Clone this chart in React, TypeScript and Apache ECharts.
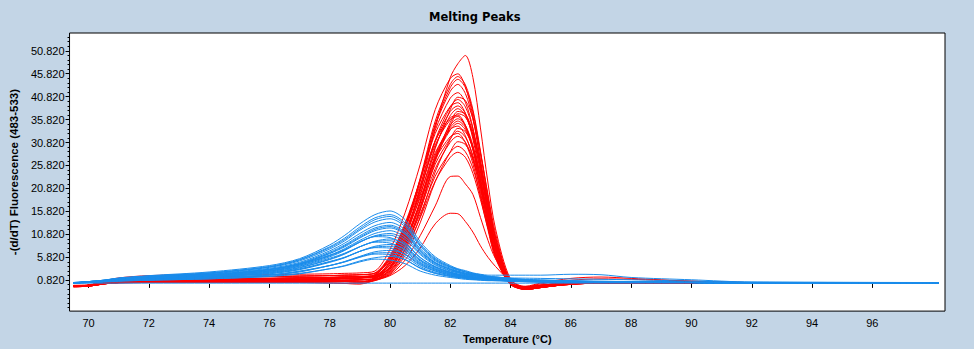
import React, { useEffect, useRef } from "react";
import * as echarts from "echarts";

// Temperature grid (°C) shared by every curve
const TEMPS = [69.5, 70, 70.5, 71, 72, 74, 76, 77, 78, 78.5, 79, 79.5, 80, 80.5, 81, 81.5, 82, 82.25, 82.5, 82.75, 83, 83.25, 83.5, 84, 84.5, 85, 86, 87, 88, 90, 92, 98.2];

// Red melting-peak curves (peak near 82 °C)
const R1 = [-0.5, -0.4, 0.2, 0.5, 0.7, 0.8, 0.9, 1.0, 1.1, 1.2, 1.3, 1.8, 3.5, 10, 21, 34, 45, 48, 49.8, 45, 34, 22, 12, 1.0, -0.9, -0.5, 0.1, 0.3, 0.3, 0.3, 0.3, 0.3];
const R2 = [-0.3, -0.2, 0.6, 1.3, 1.8, 2.0, 2.0, 2.1, 2.2, 2.3, 2.4, 2.8, 7.5, 15.5, 26, 38, 44.8, 45.8, 43, 36.6, 26.5, 16.5, 8, 0.3, -0.7, -0.3, 0.3, 0.5, 0.5, 0.4, 0.3, 0.3];
const R3 = [-0.5, -0.4, 0.2, 0.5, 0.7, 0.8, 0.9, 1.0, 1.1, 1.2, 1.3, 1.6, 5.0, 12.2, 23, 35.5, 43.5, 45.2, 43.4, 38, 29, 19, 10, 0.5, -1.2, -0.8, 0.0, 0.2, 0.3, 0.3, 0.3, 0.3];
const R4 = [-0.4, -0.3, 0.4, 0.9, 1.3, 1.5, 1.6, 1.7, 1.8, 1.9, 2.0, 2.3, 5.8, 12.8, 22.5, 33.5, 40.5, 41.7, 39.6, 34, 25.2, 15.8, 8, 0.2, -0.9, -0.5, 0.1, 0.3, 0.3, 0.3, 0.3, 0.3];
const R5 = [-0.6, -0.5, 0.0, 0.3, 0.5, 0.6, 0.7, 0.7, 0.8, 0.8, 0.9, 1.0, 3.2, 8.5, 17.8, 29.5, 38, 40.7, 40, 36, 28.6, 19.5, 11, 0.6, -1.0, -0.7, -0.1, 0.2, 0.2, 0.2, 0.2, 0.2];
const R6 = [-0.4, -0.3, 0.4, 0.9, 1.3, 1.5, 1.6, 1.7, 1.8, 1.9, 2.0, 2.4, 6.2, 13.2, 22.6, 32.8, 38.7, 39.5, 37.2, 31.6, 23, 14.2, 6.8, 0.0, -0.5, 0.2, 1.2, 1.5, 1.2, 0.6, 0.3, 0.3];
const R7 = [-0.5, -0.3, 0.3, 0.7, 1.0, 1.1, 1.2, 1.3, 1.4, 1.5, 1.6, 1.8, 4.2, 10.2, 19.2, 29.8, 36.7, 38.2, 36.7, 32.1, 24.4, 16, 8.4, 0.2, -1.2, -0.8, 0.0, 0.2, 0.3, 0.3, 0.3, 0.3];
const R8 = [-0.6, -0.5, 0.0, 0.2, 0.3, 0.3, 0.3, 0.3, 0.2, 0.1, 0.0, 0.9, 2.8, 7.8, 16.5, 27.2, 35.2, 37.6, 37.0, 33.2, 26.4, 18, 10.2, 0.5, -0.9, -0.5, 0.1, 0.3, 0.3, 0.3, 0.3, 0.3];
const R9 = [-0.5, -0.4, 0.2, 0.5, 0.7, 0.8, 0.9, 1.0, 1.1, 1.2, 1.3, 2.0, 5.6, 12.2, 20.8, 30.3, 35.8, 36.5, 34.3, 29.2, 21.2, 13.2, 6.2, -0.1, -0.7, -0.3, 0.3, 0.5, 0.5, 0.4, 0.3, 0.3];
const R10 = [-0.6, -0.5, 0.0, 0.3, 0.5, 0.6, 0.7, 0.7, 0.8, 0.8, 0.9, 1.3, 3.8, 9.6, 18.0, 28.1, 34.6, 36.0, 34.6, 30.2, 23, 15.1, 7.9, 0.1, -1.0, -0.7, -0.1, 0.2, 0.2, 0.2, 0.2, 0.2];
const R11 = [-0.5, -0.4, 0.1, 0.3, 0.4, 0.4, 0.4, 0.5, 0.5, 0.5, 0.4, 1.1, 3.5, 9.1, 17.5, 27.3, 33.6, 35.0, 33.6, 29.4, 22.4, 14.7, 7.7, 0.0, -1.2, -0.8, 0.0, 0.2, 0.3, 0.3, 0.3, 0.3];
const R12 = [-0.6, -0.5, 0.0, 0.2, 0.3, 0.3, 0.3, 0.3, 0.2, 0.1, 0.0, 0.8, 2.4, 6.8, 14.6, 24.4, 31.5, 33.9, 33.2, 29.8, 23.7, 16.3, 9.2, 0.4, -0.9, -0.5, 0.1, 0.3, 0.3, 0.3, 0.3, 0.3];
const R13 = [-0.5, -0.3, 0.3, 0.7, 1.0, 1.1, 1.2, 1.3, 1.4, 1.5, 1.6, 1.7, 4.9, 10.8, 18.7, 27.2, 32.1, 32.8, 30.8, 26.2, 19, 11.8, 5.6, -0.2, -1.0, -0.7, -0.1, 0.2, 0.2, 0.2, 0.2, 0.2];
const R14 = [-0.6, -0.5, 0.0, 0.3, 0.5, 0.6, 0.7, 0.7, 0.8, 0.8, 0.9, 1.0, 3.2, 8.4, 16.1, 25.1, 30.9, 32.2, 30.9, 27, 20.6, 13.5, 7.1, 0.0, -0.7, -0.3, 0.3, 0.5, 0.5, 0.4, 0.3, 0.3];
const R15 = [-0.5, -0.4, 0.1, 0.3, 0.4, 0.4, 0.4, 0.5, 0.5, 0.5, 0.4, 0.7, 2.2, 6.2, 13.3, 22.3, 28.8, 31.0, 30.4, 27.3, 21.7, 14.9, 8.4, 0.3, -1.2, -0.8, 0.0, 0.2, 0.3, 0.3, 0.3, 0.3];
const R16 = [-0.5, -0.4, 0.2, 0.5, 0.7, 0.8, 0.9, 1.0, 1.1, 1.2, 1.3, 1.4, 2.9, 7.5, 14.4, 22.4, 27.6, 28.7, 27.6, 24.1, 18.4, 12.1, 6.3, 0.2, -0.9, -0.5, 0.1, 0.3, 0.3, 0.3, 0.3, 0.3];
const R17 = [-0.6, -0.5, 0.0, 0.3, 0.5, 0.6, 0.7, 0.7, 0.8, 0.8, 0.9, 1.0, 2.0, 5.2, 10.5, 17, 23.4, 23.5, 21.8, 19.5, 14.5, 9.5, 5.5, 0.8, -0.6, 0.0, 0.8, 1.1, 1.0, 0.6, 0.3, 0.3];
const R18 = [-0.5, -0.4, 0.1, 0.3, 0.4, 0.4, 0.4, 0.5, 0.5, 0.5, 0.4, 0.8, 1.8, 4.0, 7.8, 13.1, 15.4, 15.3, 13.6, 11.3, 8.3, 5.8, 3.8, 0.6, -0.7, -0.3, 0.3, 0.5, 0.5, 0.4, 0.3, 0.3];
const R19 = [-0.5, -0.3, 0.3, 0.7, 1.0, 1.1, 1.2, 1.3, 1.4, 1.5, 1.6, 1.9, 4.6, 11.8, 22.3, 34.8, 42.8, 44.6, 42.8, 37.5, 28.5, 18.7, 9.8, 0.4, -1.0, -0.7, -0.1, 0.2, 0.2, 0.2, 0.2, 0.2];
const R20 = [-0.5, -0.4, 0.2, 0.5, 0.7, 0.8, 0.9, 1.0, 1.1, 1.2, 1.3, 1.9, 5.3, 11.4, 19.6, 28.6, 33.7, 34.4, 32.3, 27.5, 20, 12.4, 5.9, -0.1, -1.2, -0.8, 0.0, 0.2, 0.3, 0.3, 0.3, 0.3];
const R21 = [-0.6, -0.5, 0.0, 0.3, 0.5, 0.6, 0.7, 0.7, 0.8, 0.8, 0.9, 1.0, 2.6, 7.4, 16.0, 26.7, 34.5, 37.1, 36.4, 32.6, 26, 17.8, 10, 0.5, -0.9, -0.5, 0.1, 0.3, 0.3, 0.3, 0.3, 0.3];
const R22 = [-0.5, -0.4, 0.1, 0.3, 0.4, 0.4, 0.4, 0.5, 0.5, 0.5, 0.4, 1.3, 4.2, 10.6, 20.1, 31.3, 38.6, 40.2, 38.6, 33.8, 25.7, 16.9, 8.8, 0.2, -0.7, -0.3, 0.3, 0.5, 0.5, 0.4, 0.3, 0.3];
const R23 = [-0.5, -0.3, 0.3, 0.7, 1.0, 1.1, 1.2, 1.3, 1.4, 1.5, 1.6, 2.0, 5.4, 12.5, 22.8, 34.5, 42, 43.5, 41.5, 36, 27.1, 17.4, 9, 0.3, -0.9, -0.5, 0.1, 0.3, 0.3, 0.3, 0.3, 0.3];
const R24 = [-0.5, -0.4, 0.2, 0.5, 0.7, 0.8, 0.9, 1.0, 1.1, 1.2, 1.3, 1.6, 4.6, 11.2, 20.5, 31, 37.6, 38.8, 37.2, 32.5, 24.6, 16.1, 8.4, 0.2, -1.2, -0.8, 0.0, 0.2, 0.3, 0.3, 0.3, 0.3];
const R25 = [-0.5, -0.4, 0.1, 0.3, 0.4, 0.4, 0.4, 0.5, 0.5, 0.5, 0.4, 1.2, 3.7, 9.4, 17.8, 27.7, 34.1, 35.5, 34.1, 29.8, 22.7, 14.9, 7.8, 0.0, -1.0, -0.7, -0.1, 0.2, 0.2, 0.2, 0.2, 0.2];
const R26 = [-0.6, -0.5, 0.0, 0.3, 0.5, 0.6, 0.7, 0.7, 0.8, 0.8, 0.9, 1.2, 3.6, 9.0, 16.9, 26.1, 31.7, 33.3, 32.0, 28.0, 21.5, 14.2, 7.5, 0.1, -0.9, -0.5, 0.1, 0.3, 0.3, 0.3, 0.3, 0.3];
const R27 = [-0.5, -0.3, 0.3, 0.7, 1.0, 1.1, 1.2, 1.3, 1.4, 1.5, 1.6, 1.6, 3.6, 8.5, 15.2, 23.5, 28.7, 30.0, 28.8, 25.2, 19.3, 12.8, 6.8, 0.3, -1.2, -0.8, 0.0, 0.2, 0.3, 0.3, 0.3, 0.3];
const R28 = [-0.4, -0.3, 0.4, 0.9, 1.3, 1.5, 1.6, 1.7, 1.8, 1.9, 2.0, 2.3, 6.0, 12.8, 21.5, 31.2, 36.2, 36.8, 34.6, 29.5, 21.5, 13.4, 6.4, -0.1, -0.7, -0.3, 0.3, 0.5, 0.5, 0.4, 0.3, 0.3];

// Blue melting-peak curves (peak near 80 °C)
const B0 = [0.17, 0.17, 0.17, 0.17, 0.17, 0.17, 0.17, 0.17, 0.17, 0.17, 0.17, 0.17, 0.17, 0.17, 0.17, 0.17, 0.17, 0.17, 0.17, 0.17, 0.17, 0.17, 0.17, 0.17, 0.17, 0.17, 0.17, 0.17, 0.17, 0.17, 0.17, 0.17];
const B1 = [0.3, 0.5, 0.8, 1.3, 1.8, 2.6, 4.0, 5.5, 8.5, 10.6, 13.1, 15.1, 15.9, 14.0, 9.2, 5.9, 4.0, 3.3, 2.9, 2.4, 2.1, 1.9, 1.9, 1.9, 1.9, 1.9, 2.1, 2.0, 1.4, 0.9, 0.4, 0.3];
const B2 = [0.3, 0.5, 0.8, 1.2, 1.7, 2.4, 3.8, 5.3, 8.1, 10.0, 12.4, 14.4, 15.1, 13.3, 8.7, 5.6, 3.8, 3.2, 2.7, 2.3, 2.0, 1.7, 1.5, 1.2, 0.9, 0.8, 0.6, 0.5, 0.5, 0.4, 0.3, 0.3];
const B3 = [0.2, 0.5, 0.8, 1.2, 1.6, 2.3, 3.6, 5.0, 7.6, 9.4, 11.7, 13.5, 14.2, 12.5, 8.2, 5.2, 3.6, 3.0, 2.6, 2.2, 1.9, 1.6, 1.5, 1.3, 1.25, 1.2, 1.1, 1.0, 0.9, 0.6, 0.4, 0.3];
const B4 = [0.2, 0.5, 0.7, 1.1, 1.5, 2.2, 3.4, 4.7, 7.2, 8.9, 11.0, 12.7, 13.4, 11.8, 7.7, 5.0, 3.4, 2.8, 2.4, 2.1, 1.8, 1.5, 1.4, 1.1, 0.9, 0.7, 0.6, 0.5, 0.5, 0.3, 0.2, 0.2];
const B5 = [0.2, 0.5, 0.7, 1.1, 1.5, 2.1, 3.2, 4.5, 6.9, 8.5, 10.5, 12.2, 12.8, 11.3, 7.4, 4.7, 3.2, 2.7, 2.3, 2.0, 1.7, 1.5, 1.3, 1.1, 0.8, 0.7, 0.6, 0.5, 0.4, 0.3, 0.2, 0.2];
const B6 = [0.2, 0.4, 0.7, 1.0, 1.4, 2.0, 3.1, 4.3, 6.6, 8.1, 10.0, 11.6, 12.2, 10.8, 7.0, 4.5, 3.1, 2.6, 2.2, 1.9, 1.6, 1.4, 1.3, 1.0, 0.8, 0.7, 0.6, 0.4, 0.4, 0.3, 0.2, 0.2];
const B7 = [0.2, 0.4, 0.7, 1.0, 1.3, 1.9, 2.9, 4.1, 6.2, 7.7, 9.5, 11.0, 11.6, 10.2, 6.7, 4.3, 2.9, 2.5, 2.1, 1.8, 1.6, 1.3, 1.2, 1.0, 0.8, 0.7, 0.5, 0.4, 0.4, 0.3, 0.2, 0.2];
const B8 = [0.2, 0.4, 0.6, 1.0, 1.3, 1.8, 2.8, 3.9, 5.9, 7.3, 9.1, 10.5, 11.0, 9.7, 6.4, 4.1, 2.8, 2.4, 2.0, 1.7, 1.5, 1.3, 1.2, 1.0, 0.7, 0.6, 0.5, 0.4, 0.4, 0.3, 0.2, 0.2];
const B9 = [0.2, 0.4, 0.7, 1.0, 1.3, 1.9, 3.1, 4.3, 6.3, 7.5, 9.2, 10.3, 10.1, 8.4, 5.3, 3.6, 2.5, 2.1, 1.8, 1.5, 1.3, 1.2, 1.1, 0.9, 0.7, 0.6, 0.5, 0.4, 0.4, 0.3, 0.2, 0.2];
const B10 = [0.2, 0.4, 0.6, 0.9, 1.2, 1.6, 2.5, 3.5, 5.3, 6.5, 8.1, 9.3, 9.8, 8.7, 5.7, 3.7, 2.5, 2.1, 1.8, 1.5, 1.4, 1.2, 1.1, 0.9, 0.7, 0.6, 0.5, 0.4, 0.4, 0.3, 0.2, 0.2];
const B11 = [0.2, 0.4, 0.6, 0.9, 1.2, 1.7, 2.7, 3.8, 5.6, 6.7, 8.1, 9.1, 8.9, 7.4, 4.7, 3.2, 2.3, 1.9, 1.6, 1.4, 1.2, 1.1, 1.0, 0.8, 0.7, 0.6, 0.5, 0.4, 0.4, 0.3, 0.2, 0.2];
const B12 = [0.2, 0.4, 0.5, 0.8, 1.0, 1.5, 2.2, 3.1, 4.7, 5.7, 7.1, 8.2, 8.6, 7.6, 5.0, 3.2, 2.2, 1.9, 1.6, 1.4, 1.2, 1.0, 1.0, 0.8, 0.6, 0.5, 0.5, 0.4, 0.4, 0.3, 0.2, 0.2];
const B13 = [0.2, 0.4, 0.6, 0.8, 1.1, 1.5, 2.4, 3.3, 4.9, 5.8, 7.1, 7.9, 7.8, 6.4, 4.1, 2.8, 2.0, 1.7, 1.4, 1.2, 1.1, 1.0, 0.9, 0.7, 0.6, 0.5, 0.4, 0.4, 0.4, 0.3, 0.2, 0.2];
const B14 = [0.2, 0.3, 0.5, 0.7, 0.9, 1.3, 1.9, 2.6, 4.0, 4.9, 6.0, 7.0, 7.3, 6.5, 4.3, 2.8, 1.9, 1.6, 1.4, 1.2, 1.1, 0.9, 0.8, 0.7, 0.6, 0.5, 0.4, 0.3, 0.3, 0.3, 0.2, 0.2];
const B15 = [0.2, 0.3, 0.5, 0.7, 0.9, 1.3, 2.0, 2.8, 4.0, 4.8, 5.8, 6.5, 6.4, 5.3, 3.4, 2.3, 1.7, 1.4, 1.2, 1.0, 0.9, 0.8, 0.8, 0.6, 0.5, 0.5, 0.4, 0.3, 0.3, 0.3, 0.2, 0.2];
const B16 = [0.2, 0.3, 0.4, 0.6, 0.8, 1.1, 1.6, 2.2, 3.3, 4.0, 5.0, 5.7, 6.0, 5.3, 3.5, 2.3, 1.6, 1.4, 1.2, 1.0, 0.9, 0.8, 0.7, 0.6, 0.5, 0.4, 0.4, 0.3, 0.3, 0.3, 0.2, 0.2];
const B17 = [0.2, 0.3, 0.5, 0.6, 0.8, 1.1, 1.7, 2.3, 3.3, 3.9, 4.8, 5.4, 5.2, 4.4, 2.8, 1.9, 1.4, 1.2, 1.0, 0.9, 0.8, 0.7, 0.7, 0.6, 0.5, 0.4, 0.4, 0.3, 0.3, 0.3, 0.2, 0.2];
const B18 = [0.3, 0.5, 0.8, 1.2, 1.7, 2.4, 3.7, 5.2, 7.9, 9.7, 12.0, 14.0, 14.7, 12.9, 8.4, 5.4, 3.7, 3.1, 2.6, 2.2, 1.9, 1.6, 1.5, 1.2, 1.0, 0.9, 0.7, 0.6, 0.5, 0.4, 0.3, 0.3];
const B19 = [0.2, 0.5, 0.7, 1.0, 1.4, 2.0, 3.2, 4.4, 6.7, 8.3, 10.2, 11.9, 12.5, 11.0, 7.2, 4.6, 3.2, 2.6, 2.2, 1.9, 1.7, 1.4, 1.3, 1.0, 0.8, 0.7, 0.6, 0.5, 0.4, 0.3, 0.2, 0.2];
const B20 = [0.2, 0.4, 0.6, 1.0, 1.3, 1.8, 2.9, 4.1, 6.1, 7.4, 9.1, 10.4, 10.6, 9.0, 5.8, 3.8, 2.6, 2.2, 1.9, 1.6, 1.4, 1.2, 1.1, 0.9, 0.7, 0.6, 0.5, 0.4, 0.4, 0.3, 0.2, 0.2];
const B21 = [0.2, 0.4, 0.6, 0.9, 1.2, 1.6, 2.6, 3.6, 5.4, 6.6, 8.1, 9.2, 9.4, 8.0, 5.2, 3.4, 2.4, 2.0, 1.7, 1.4, 1.3, 1.1, 1.0, 0.8, 0.7, 0.6, 0.5, 0.4, 0.4, 0.3, 0.2, 0.2];
const B22 = [0.2, 0.4, 0.6, 0.8, 1.0, 1.5, 2.3, 3.2, 4.8, 5.8, 7.1, 8.0, 8.2, 7.0, 4.5, 3.0, 2.1, 1.8, 1.5, 1.3, 1.1, 1.0, 0.9, 0.7, 0.6, 0.5, 0.4, 0.4, 0.4, 0.3, 0.2, 0.2];
const B23 = [0.2, 0.3, 0.5, 0.7, 0.9, 1.3, 1.9, 2.7, 4.0, 4.8, 5.9, 6.7, 6.8, 5.9, 3.8, 2.5, 1.8, 1.5, 1.3, 1.1, 1.0, 0.8, 0.8, 0.6, 0.5, 0.5, 0.4, 0.3, 0.3, 0.3, 0.2, 0.2];

const RED_CURVES = [R1, R2, R3, R4, R5, R6, R7, R8, R9, R10, R11, R12, R13, R14, R15, R16, R17, R18, R19, R20, R21, R22, R23, R24, R25, R26, R27, R28];
const BLUE_CURVES = [B0, B1, B2, B3, B4, B5, B6, B7, B8, B9, B10, B11, B12, B13, B14, B15, B16, B17, B18, B19, B20, B21, B22, B23];

// Axis ticks
const X_TICKS = [70, 72, 74, 76, 78, 80, 82, 84, 86, 88, 90, 92, 94, 96];
const Y_TICKS = [0.82, 5.82, 10.82, 15.82, 20.82, 25.82, 30.82, 35.82, 40.82, 45.82, 50.82];
const Y_MINOR = [-5.18, -4.18, -3.18, -2.18, -1.18, -0.18, 1.82, 2.82, 3.82, 4.82, 6.82, 7.82, 8.82, 9.82, 11.82, 12.82, 13.82, 14.82, 16.82, 17.82, 18.82, 19.82, 21.82, 22.82, 23.82, 24.82, 26.82, 27.82, 28.82, 29.82, 31.82, 32.82, 33.82, 34.82, 36.82, 37.82, 38.82, 39.82, 41.82, 42.82, 43.82, 44.82, 46.82, 47.82, 48.82, 49.82, 51.82, 52.82, 53.82];

const X_MIN = 69.37;
const X_MAX = 98.41;
const Y_MIN = -5.93;
const Y_MAX = 54.7;

const RED = "#FF0000";
const BLUE = "#1A8CEB";
const FONT = "'Liberation Sans', Arial, sans-serif";

export default function App() {
  const ref = useRef<HTMLDivElement>(null);

  useEffect(() => {
    if (!ref.current) return;
    const chart = echarts.init(ref.current, undefined, { renderer: "svg" });

    const mk = (vals: number[], color: string) => ({
      type: "line",
      data: TEMPS.map((t, i) => [t, vals[i]]),
      showSymbol: false,
      symbol: "none",
      smooth: 0.3,
      silent: true,
      lineStyle: { color, width: 1 },
      emphasis: { disabled: true },
    });

    chart.setOption({
      animation: false,
      backgroundColor: "#C3D5E6",
      title: {
        text: "Melting Peaks",
        left: 429,
        top: 11,
        padding: 0,
        textStyle: { fontFamily: "'DejaVu Sans', sans-serif", fontWeight: "bold", fontSize: 11.5, color: "#000" },
      },
      grid: {
        left: 63,
        top: 33,
        right: 29,
        bottom: 35,
        show: true,
        backgroundColor: "#FFFFFF",
        borderColor: "#000",
        borderWidth: 1,
        containLabel: false,
      },
      xAxis: {
        type: "value",
        min: X_MIN,
        max: X_MAX,
        axisLine: { show: false },
        splitLine: { show: false },
        axisTick: { show: true, length: 4, customValues: X_TICKS, lineStyle: { color: "#000" } },
        axisLabel: {
          customValues: X_TICKS,
          fontSize: 11,
          fontFamily: FONT,
          color: "#000",
          margin: 6,
          formatter: (v: number) => String(Math.round(v)),
        },
        name: "Temperature (°C)",
        nameLocation: "middle",
        nameGap: 18,
        nameTextStyle: { fontFamily: FONT, fontWeight: "bold", fontSize: 11, color: "#000" },
      },
      yAxis: [
        {
          type: "value",
          min: Y_MIN,
          max: Y_MAX,
          axisLine: { show: false },
          splitLine: { show: false },
          axisTick: { show: true, length: 4, customValues: Y_TICKS, lineStyle: { color: "#000" } },
          axisLabel: {
            customValues: Y_TICKS,
            fontSize: 11,
            fontFamily: FONT,
            color: "#000",
            margin: 5,
            formatter: (v: number) => v.toFixed(3),
          },
          name: "-(d/dT) Fluorescence (483-533)",
          nameLocation: "middle",
          nameGap: 37,
          nameTextStyle: { fontFamily: FONT, fontWeight: "bold", fontSize: 11.5, color: "#000" },
        },
        {
          type: "value",
          min: Y_MIN,
          max: Y_MAX,
          position: "left",
          axisLine: { show: false },
          splitLine: { show: false },
          axisLabel: { show: false },
          axisTick: { show: true, length: 2, customValues: Y_MINOR, lineStyle: { color: "#000" } },
        },
      ],
      series: [
        ...RED_CURVES.map((c) => mk(c, RED)),
        ...BLUE_CURVES.map((c) => mk(c, BLUE)),
      ],
    });

    return () => chart.dispose();
  }, []);

  return (
    <div
      ref={ref}
      style={{ position: "fixed", left: 0, top: 0, width: 974, height: 349 }}
    />
  );
}
